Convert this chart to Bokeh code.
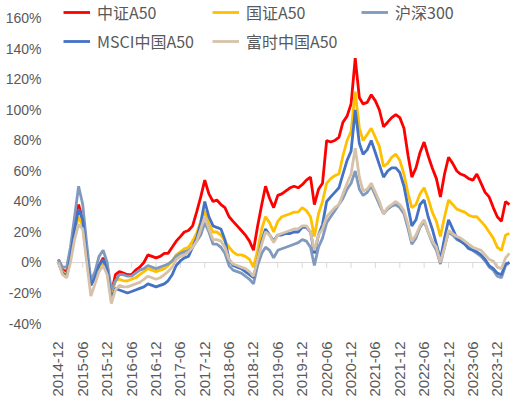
# pip install bokeh pandas
import math

import pandas as pd
from bokeh.embed import file_html
from bokeh.models import (DatetimeTickFormatter, FixedTicker, Legend, LegendItem,
                          PrintfTickFormatter, Range1d, Span)
from bokeh.plotting import figure
from bokeh.resources import INLINE

# cumulative return in %, monthly, starting 2014-12
zz_a50 = [2, -5, -6, 5, 22, 38, 28, 5, -13, -9, -2, 3,
          -3, -20, -8, -6, -7, -8, -8, -5, -3, 0, 5, 4,
          3, 4, 6, 6, 10, 14, 17, 20, 21, 24, 33, 43,
          54, 45, 40, 41, 38, 36, 30, 27, 24, 21, 18, 14,
          8, 24, 38, 50, 42, 36, 44, 45, 47, 49, 50, 49,
          51, 54, 56, 38, 48, 52, 80, 79, 80, 82, 92, 96,
          104, 134, 108, 104, 105, 110, 106, 100, 89, 92, 95, 97,
          95, 88, 70, 56, 62, 72, 79, 70, 62, 55, 43, 58,
          69, 65, 60, 58, 57, 55, 54, 58, 52, 46, 43, 36,
          30, 27, 40, 38]
gz_a50 = [0, -6, -8, 2, 20, 30, 24, 3, -14, -10, -3, 0,
          -5, -22, -12, -11, -12, -12, -11, -10, -8, -6, -4, -5,
          -6, -5, -4, -2, 1, 5, 7, 9, 10, 14, 19, 27,
          34, 25, 20, 20, 18, 14, 10, 7, 5, 5, 4, 2,
          -3, 8, 22, 30, 26, 20, 27, 30, 31, 32, 33, 33,
          36, 34, 30, 17, 32, 40, 52, 55, 57, 58, 70, 80,
          86, 112, 88, 80, 84, 88, 82, 76, 63, 65, 69, 71,
          67, 58, 45, 36, 38, 45, 49, 42, 33, 27, 17, 30,
          41, 38, 35, 34, 33, 31, 30, 30, 27, 24, 20, 16,
          10, 8, 18, 19]
hs300 = [2, -3, -3, 10, 30, 50, 38, 12, -12, -6, 4, 8,
         0, -18, -12, -8, -8, -9, -9, -7, -5, -4, -2, -3,
         -4, -3, -2, -1, 1, 4, 6, 7, 8, 10, 14, 18,
         26, 20, 12, 12, 10, 6, -2, -5, -6, -7, -9, -11,
         -14, -2, 6, 10, 8, 3, 8, 9, 10, 11, 12, 13,
         15, 14, 10, -2, 10, 16, 26, 30, 34, 38, 42, 48,
         52, 60, 48, 44, 46, 50, 44, 38, 32, 35, 37, 38,
         36, 32, 22, 12, 16, 23, 27, 20, 13, 8, -1, 10,
         20, 18, 15, 14, 12, 10, 8, 6, 4, 1, -3, -5,
         -9, -10, -2, 0]
msci_a50 = [0, -7, -9, 3, 22, 35, 28, 3, -15, -10, -2, 2,
            -5, -24, -17, -18, -19, -20, -19, -18, -17, -16, -14, -15,
            -16, -15, -14, -12, -8, -2, 1, 3, 4, 10, 16, 26,
            40, 30, 24, 23, 22, 15, 2, -2, -3, -4, -6, -8,
            -10, 2, 14, 22, 18, 14, 18, 18, 19, 19, 20, 20,
            23, 23, 20, 6, 18, 25, 40, 43, 46, 49, 58, 67,
            73, 100, 78, 71, 74, 80, 72, 64, 56, 60, 62, 62,
            59, 50, 36, 24, 28, 38, 41, 30, 22, 12, 2, 16,
            28, 22, 16, 14, 12, 9, 8, 7, 5, 2, -2, -4,
            -7, -8, -1, 0]
ftse_a50 = [0, -8, -10, 0, 15, 25, 22, 0, -22, -14, -6, -2,
            -8, -27, -18, -15, -16, -16, -15, -14, -13, -11, -9, -10,
            -11, -10, -8, -6, -3, 2, 4, 5, 7, 10, 14, 22,
            30, 22, 15, 15, 14, 10, 2, -1, -2, -3, -4, -6,
            -9, 2, 12, 20, 18, 13, 18, 19, 20, 21, 22, 22,
            24, 24, 20, 8, 18, 22, 30, 33, 36, 38, 45, 52,
            58, 75, 56, 47, 48, 52, 46, 40, 32, 36, 38, 40,
            38, 34, 25, 14, 18, 24, 28, 20, 14, 10, 0, 10,
            21, 19, 17, 16, 14, 12, 10, 9, 8, 5, 2, 1,
            -3, -4, 3, 6]

names = ["中证A50", "国证A50", "沪深300", "MSCI中国A50", "富时中国A50"]
colors = ["#FF0000", "#FFC000", "#8099BC", "#4472C4", "#D6C2A8"]

tick_labels = ["2014-12", "2015-06", "2015-12", "2016-06", "2016-12", "2017-06",
               "2017-12", "2018-06", "2018-12", "2019-06", "2019-12", "2020-06",
               "2020-12", "2021-06", "2021-12", "2022-06", "2022-12", "2023-06",
               "2023-12"]
y_ticks = [-40, -20, 0, 20, 40, 60, 80, 100, 120, 140, 160]

dates = pd.date_range("2014-12-01", periods=len(zz_a50), freq="MS")
tick_dates = pd.to_datetime(tick_labels, format="%Y-%m")
tick_ms = [t.timestamp() * 1000 for t in tick_dates]

# frame reaches to the top of the canvas so the legend's first row is not clipped
p = figure(frame_width=455, frame_height=323,
           min_border_left=55, min_border_right=0, min_border_top=0, min_border_bottom=73,
           x_axis_type="datetime",
           x_range=Range1d(pd.Timestamp("2014-11-09"), pd.Timestamp("2024-03-09")),
           y_range=Range1d(-40, 171.8),
           output_backend="svg", toolbar_location=None)
p.outline_line_color = None
p.xgrid.visible = False
p.ygrid.visible = False

# zero line with small ticks
p.add_layout(Span(location=0, dimension="width", line_color="#D9D9D9", line_width=1, level="underlay"))
p.segment(x0=tick_dates, y0=[0] * len(tick_dates), x1=tick_dates, y1=[-3.5] * len(tick_dates),
          line_color="#D9D9D9", line_width=1)

items = []
for vals, name, col in zip([zz_a50, gz_a50, hs300, msci_a50, ftse_a50], names, colors):
    r = p.line(dates, vals, line_color=col, line_width=2.8)
    items.append(LegendItem(label=name, renderers=[r]))

# legend fills column by column: reorder so rows read 中证/国证/沪深, MSCI/富时
legend_items = [items[0], items[3], items[1], items[4], items[2]]
legend = Legend(items=legend_items, ncols=3, location=(8, 270),
                label_text_font="Noto Sans CJK SC", label_text_font_size="16px",
                label_text_color="#595959", glyph_width=27, glyph_height=20,
                label_height=20, label_width=110, label_standoff=7, spacing=5,
                padding=0, margin=0, border_line_color=None, background_fill_alpha=0)
p.add_layout(legend)

p.yaxis.ticker = FixedTicker(ticks=y_ticks)
p.yaxis.formatter = PrintfTickFormatter(format="%d%%")
p.yaxis.axis_line_color = None
p.yaxis.major_tick_line_color = None
p.yaxis.minor_tick_line_color = None
p.yaxis.major_label_standoff = 8
p.yaxis.major_label_text_font = "Liberation Sans"
p.yaxis.major_label_text_font_size = "14px"
p.yaxis.major_label_text_color = "#595959"

p.xaxis.ticker = FixedTicker(ticks=tick_ms)
p.xaxis.formatter = DatetimeTickFormatter(days="%Y-%m", months="%Y-%m", years="%Y-%m")
p.xaxis.major_label_orientation = math.pi / 2
p.xaxis.axis_line_color = None
p.xaxis.major_tick_line_color = None
p.xaxis.minor_tick_line_color = None
p.xaxis.major_label_standoff = 12
p.xaxis.major_label_text_font = "Liberation Sans"
p.xaxis.major_label_text_font_size = "15px"
p.xaxis.major_label_text_color = "#595959"

open("out.html", "w").write(file_html(p, INLINE))
